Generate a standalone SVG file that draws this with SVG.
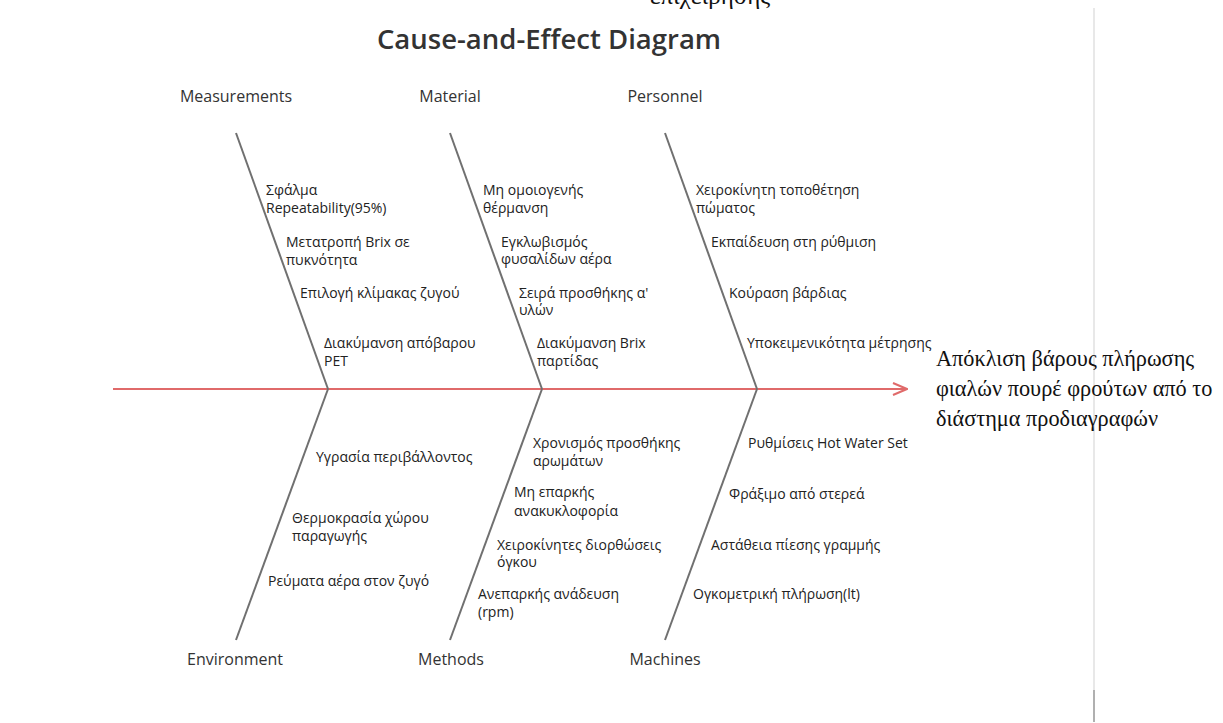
<svg xmlns="http://www.w3.org/2000/svg" width="1223" height="723" viewBox="0 0 1223 723">
<style>
.lbl{font-family:"Open Sans","Noto Sans","DejaVu Sans",sans-serif;font-size:16px;fill:#333}
.c{font-family:"Open Sans","Noto Sans","DejaVu Sans",sans-serif;font-size:14px;fill:#222}
.eff{font-family:"Liberation Serif","DejaVu Serif",serif;font-size:22.3px;fill:#111}
.bone{stroke:#707070;stroke-width:2;fill:none}
</style>
<defs>
<marker id="ah" markerWidth="16" markerHeight="14" refX="15" refY="7" orient="auto" markerUnits="userSpaceOnUse">
<path d="M1,1 L15,7 L1,13" fill="none" stroke="#e06a6a" stroke-width="2"/>
</marker>
</defs>
<rect width="1223" height="723" fill="#fff"/>
<text x="650" y="4" font-family="Liberation Serif, DejaVu Serif, serif" font-size="25" fill="#111">επιχείρησης</text>
<line x1="1094" y1="8" x2="1094" y2="690" stroke="#e8e8e8" stroke-width="2"/>
<line x1="1094" y1="690" x2="1094" y2="722" stroke="#b0b0b0" stroke-width="2"/>
<text x="549" y="49" text-anchor="middle" font-family="Open Sans, Noto Sans, sans-serif" font-size="27.5" font-weight="600" fill="#333">Cause-and-Effect Diagram</text>
<g id="connectors">
<line x1="113" y1="389" x2="907" y2="389" stroke="#e06a6a" stroke-width="2" marker-end="url(#ah)"/>
<line class="bone" x1="236" y1="133" x2="328" y2="389"/>
<line class="bone" x1="450" y1="133" x2="542" y2="389"/>
<line class="bone" x1="665" y1="133" x2="757" y2="389"/>
<line class="bone" x1="328" y1="389" x2="236" y2="640"/>
<line class="bone" x1="542" y1="389" x2="450" y2="640"/>
<line class="bone" x1="757" y1="389" x2="665" y2="640"/>
</g>
<g id="effect">
<text class="eff" x="936" y="366">Απόκλιση βάρους πλήρωσης</text>
<text class="eff" x="936" y="396">φιαλών πουρέ φρούτων από το</text>
<text class="eff" x="936" y="426">διάστημα προδιαγραφών</text>
</g>
<g id="measurements">
<text class="lbl" x="236" y="102" text-anchor="middle">Measurements</text>
<text class="c" x="266" y="195">Σφάλμα</text>
<text class="c" x="266" y="213">Repeatability(95%)</text>
<text class="c" x="286" y="247">Μετατροπή Brix σε</text>
<text class="c" x="286" y="265">πυκνότητα</text>
<text class="c" x="300" y="298">Επιλογή κλίμακας ζυγού</text>
<text class="c" x="324" y="348">Διακύμανση απόβαρου</text>
<text class="c" x="324" y="366">PET</text>
</g>
<g id="material">
<text class="lbl" x="450" y="102" text-anchor="middle">Material</text>
<text class="c" x="483" y="195">Μη ομοιογενής</text>
<text class="c" x="483" y="213">θέρμανση</text>
<text class="c" x="501" y="247">Εγκλωβισμός</text>
<text class="c" x="501" y="264">φυσαλίδων αέρα</text>
<text class="c" x="519" y="298">Σειρά προσθήκης α'</text>
<text class="c" x="519" y="315">υλών</text>
<text class="c" x="537" y="348">Διακύμανση Brix</text>
<text class="c" x="537" y="366">παρτίδας</text>
</g>
<g id="personnel">
<text class="lbl" x="665" y="102" text-anchor="middle">Personnel</text>
<text class="c" x="696" y="195">Χειροκίνητη τοποθέτηση</text>
<text class="c" x="696" y="213">πώματος</text>
<text class="c" x="711" y="247">Εκπαίδευση στη ρύθμιση</text>
<text class="c" x="729" y="298">Κούραση βάρδιας</text>
<text class="c" x="747" y="348">Υποκειμενικότητα μέτρησης</text>
</g>
<g id="environment">
<text class="lbl" x="235" y="665" text-anchor="middle">Environment</text>
<text class="c" x="316" y="462">Υγρασία περιβάλλοντος</text>
<text class="c" x="292" y="523">Θερμοκρασία χώρου</text>
<text class="c" x="292" y="541">παραγωγής</text>
<text class="c" x="268" y="586">Ρεύματα αέρα στον ζυγό</text>
</g>
<g id="methods">
<text class="lbl" x="451" y="665" text-anchor="middle">Methods</text>
<text class="c" x="533" y="448">Χρονισμός προσθήκης</text>
<text class="c" x="533" y="466">αρωμάτων</text>
<text class="c" x="514" y="497">Μη επαρκής</text>
<text class="c" x="514" y="516">ανακυκλοφορία</text>
<text class="c" x="497" y="550">Χειροκίνητες διορθώσεις</text>
<text class="c" x="497" y="567">όγκου</text>
<text class="c" x="478" y="599">Ανεπαρκής ανάδευση</text>
<text class="c" x="478" y="617">(rpm)</text>
</g>
<g id="machines">
<text class="lbl" x="665" y="665" text-anchor="middle">Machines</text>
<text class="c" x="748" y="448">Ρυθμίσεις Hot Water Set</text>
<text class="c" x="729" y="499">Φράξιμο από στερεά</text>
<text class="c" x="711" y="550">Αστάθεια πίεσης γραμμής</text>
<text class="c" x="693" y="599">Ογκομετρική πλήρωση(lt)</text>
</g>
</svg>
